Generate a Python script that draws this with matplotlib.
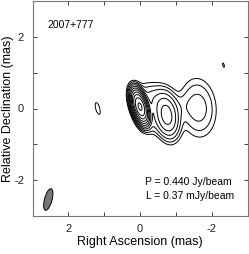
import numpy as np
import matplotlib
matplotlib.use('Agg')
import matplotlib.pyplot as plt
from matplotlib.patches import Ellipse

plt.rcParams['font.family'] = ['Liberation Sans', 'DejaVu Sans']

# Gaussian model components: RA offset (mas), Dec offset (mas), peak (Jy/beam),
# sigma major (mas), sigma minor (mas), position angle (deg, N through E)
comp_x = [0.00, -0.45, -0.75, -1.15, -1.62, -0.35, 1.18, -2.33]
comp_y = [0.05, 0.18, -0.20, 0.05, 0.02, -0.40, 0.00, 1.21]
comp_peak = [0.440, 0.0025, 0.016, 0.0004, 0.0021, 0.0010, 0.00046, 0.00038]
comp_maj = [0.20, 0.34, 0.30, 0.30, 0.44, 0.25, 0.255, 0.255]
comp_min = [0.085, 0.25, 0.16, 0.20, 0.27, 0.20, 0.085, 0.085]
comp_pa = [17, 60, 10, 90, 5, 80, 15, 15]

# restoring beam (FWHM, mas) and map parameters
beam_maj, beam_min, beam_pa = 0.62, 0.21, 15
beam_x, beam_y = 2.56, -2.54
peak_flux = 0.440      # Jy/beam
lowest = 0.37e-3       # Jy/beam
n_levels = 11

ra = np.linspace(3, -3, 601)
dec = np.linspace(-3, 3, 601)
X, Y = np.meshgrid(ra, dec)
img = np.zeros_like(X)
for x0, y0, p, smaj, smin, pa in zip(comp_x, comp_y, comp_peak, comp_maj, comp_min, comp_pa):
    t = np.radians(pa)
    dx, dy = X - x0, Y - y0
    u = dx * np.sin(t) + dy * np.cos(t)   # along major axis
    v = dx * np.cos(t) - dy * np.sin(t)   # along minor axis
    img += p * np.exp(-0.5 * ((u / smaj) ** 2 + (v / smin) ** 2))

levels = lowest * 2.0 ** np.arange(n_levels)

fig = plt.figure(figsize=(2.49, 2.54), dpi=100)
ax = fig.add_axes([32.5 / 249, 38 / 254, 215 / 249, 215 / 254])
ax.contour(X, Y, img, levels=levels, colors='black', linewidths=0.7)

beam = Ellipse((beam_x, beam_y), width=beam_min, height=beam_maj, angle=beam_pa,
               facecolor='#777777', edgecolor='black', linewidth=0.7)
ax.add_patch(beam)

ax.set_xlim(3, -3)
ax.set_ylim(-3, 3)
ax.set_xticks([3, 2, 1, 0, -1, -2, -3])
ax.set_xticklabels(['', '2', '', '0', '', '-2', ''])
ax.set_yticks([-3, -2, -1, 0, 1, 2, 3])
ax.set_yticklabels(['', '-2', '', '0', '', '2', ''])
ax.tick_params(direction='in', length=3, width=0.6, top=True, right=True,
               labelsize=8, colors='#222222', pad=6)
for s in ax.spines.values():
    s.set_color('#777777')
    s.set_linewidth(0.8)

ax.set_xlabel('Right Ascension (mas)', fontsize=9, labelpad=1)
ax.set_ylabel('Relative Declination (mas)', fontsize=9, labelpad=0)

ax.text(2.57, 2.33, '2007+777', fontsize=7.5, va='center', ha='left')
ax.text(-2.55, -2.04, 'P = %.3f Jy/beam' % peak_flux, fontsize=7.5, ha='right', va='center')
ax.text(-2.62, -2.45, 'L = %.2f mJy/beam' % (lowest * 1e3), fontsize=7.5, ha='right', va='center')

fig.savefig('out.png', dpi=100)
